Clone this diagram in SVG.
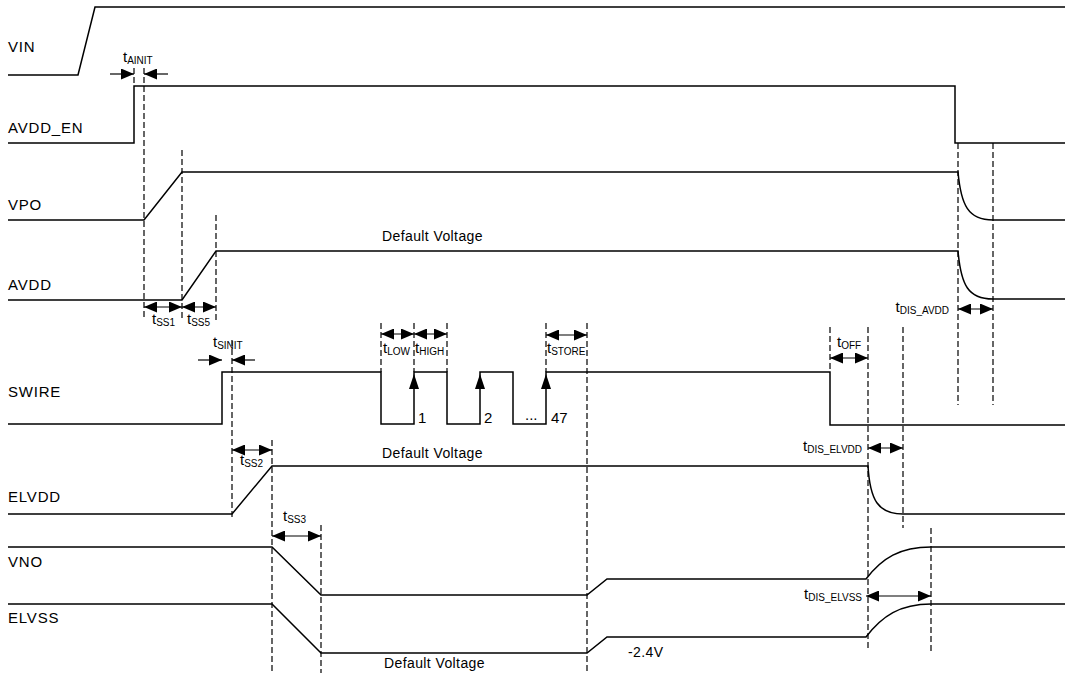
<svg xmlns="http://www.w3.org/2000/svg" width="1065" height="675" viewBox="0 0 1065 675">
<style>
.sig{fill:none;stroke:#000;stroke-width:1.5}
.dash{fill:none;stroke:#000;stroke-width:1.2;stroke-dasharray:6,3}
.dim{fill:none;stroke:#000;stroke-width:1.2}
.lbl{font-family:"Liberation Sans",Arial,sans-serif;font-size:15px;letter-spacing:0.8px;fill:#000}
.t{font-family:"Liberation Sans",Arial,sans-serif;font-size:15px;fill:#000}
.s{font-size:10px}
.dv{font-family:"Liberation Sans",Arial,sans-serif;font-size:14px;letter-spacing:0.4px;fill:#000}
</style>
<defs>
<marker id="ah" viewBox="0 0 13 11" refX="13" refY="5.5" markerWidth="13" markerHeight="11" markerUnits="userSpaceOnUse" orient="auto-start-reverse">
<path d="M0,0 L13,5.5 L0,11 Z" fill="#000"/>
</marker>
</defs>
<rect width="1065" height="675" fill="#fff"/>

<g id="labels">
<text class="lbl" x="8" y="52">VIN</text>
<text class="lbl" x="8" y="133">AVDD_EN</text>
<text class="lbl" x="8" y="210">VPO</text>
<text class="lbl" x="8" y="290">AVDD</text>
<text class="lbl" x="8" y="397">SWIRE</text>
<text class="lbl" x="8" y="502">ELVDD</text>
<text class="lbl" x="8" y="567">VNO</text>
<text class="lbl" x="8" y="623">ELVSS</text>
</g>

<g id="signals">
<path id="VIN" class="sig" d="M8,75 H78 L95,7 H1065"/>
<path id="AVDD_EN" class="sig" d="M8,143 H134 V86 H955 V143 H1065"/>
<path id="VPO" class="sig" d="M8,220 H144 L182,172 H958 C961,205 968,220 993,220 H1065"/>
<path id="AVDD" class="sig" d="M8,300 H182 L216,251 H958 C961,285 968,299 993,299 H1065"/>
<path id="SWIRE" class="sig" d="M8,424 H222 V372 H381 V424 H414 V372 H447 V424 H480 V372 H513 V424 H546 V372 H830 V425 H1065"/>
<path id="ELVDD" class="sig" d="M8,514 H232 L272,466 H868 C870,500 878,514 903,514 H1065"/>
<path id="VNO" class="sig" d="M8,547 H272 L321,595 H587 L607,579 H866 C882,558 900,547 931,547 H1065"/>
<path id="ELVSS" class="sig" d="M8,604 H272 L321,653 H587 L607,637 H866 C882,616 900,604 931,604 H1065"/>
</g>

<g id="connectors">
<path class="dash" d="M134,68 V86"/>
<path class="dash" d="M144,68 V320"/>
<path class="dash" d="M182,150 V320"/>
<path class="dash" d="M216,215 V320"/>
<path class="dash" d="M232,340 V520"/>
<path class="dash" d="M272,440 V673"/>
<path class="dash" d="M321,525 V673"/>
<path class="dash" d="M381,323 V372"/>
<path class="dash" d="M414,323 V372"/>
<path class="dash" d="M447,323 V372"/>
<path class="dash" d="M546,323 V372"/>
<path class="dash" d="M587,323 V673"/>
<path class="dash" d="M830,327 V372"/>
<path class="dash" d="M868,327 V650"/>
<path class="dash" d="M903,327 V528"/>
<path class="dash" d="M931,528 V652"/>
<path class="dash" d="M958,143 V405"/>
<path class="dash" d="M993,143 V405"/>

<path class="dim" d="M110,74 H134" marker-end="url(#ah)"/>
<path class="dim" d="M168,74 H144" marker-end="url(#ah)"/>
<path class="dim" d="M144,307 H182" marker-start="url(#ah)" marker-end="url(#ah)"/>
<path class="dim" d="M182,307 H216" marker-start="url(#ah)" marker-end="url(#ah)"/>
<path class="dim" d="M198,360 H222" marker-end="url(#ah)"/>
<path class="dim" d="M255,360 H232" marker-end="url(#ah)"/>
<path class="dim" d="M381,334 H414" marker-start="url(#ah)" marker-end="url(#ah)"/>
<path class="dim" d="M414,334 H447" marker-start="url(#ah)" marker-end="url(#ah)"/>
<path class="dim" d="M546,335 H587" marker-start="url(#ah)" marker-end="url(#ah)"/>
<path class="dim" d="M830,358 H868" marker-start="url(#ah)" marker-end="url(#ah)"/>
<path class="dim" d="M868,448 H903" marker-start="url(#ah)" marker-end="url(#ah)"/>
<path class="dim" d="M958,309 H993" marker-start="url(#ah)" marker-end="url(#ah)"/>
<path class="dim" d="M232,450 H272" marker-start="url(#ah)" marker-end="url(#ah)"/>
<path class="dim" d="M272,536 H321" marker-start="url(#ah)" marker-end="url(#ah)"/>
<path class="dim" d="M866,596 H931" marker-start="url(#ah)" marker-end="url(#ah)"/>

<path d="M409,389 L414,374 L419,389 Z" fill="#000"/>
<path d="M475,389 L480,374 L485,389 Z" fill="#000"/>
<path d="M541,389 L546,374 L551,389 Z" fill="#000"/>
</g>

<g id="timing-labels">
<text class="t" x="123" y="62">t<tspan class="s" dy="2">AINIT</tspan></text>
<text class="t" x="152" y="324">t<tspan class="s" dy="2">SS1</tspan></text>
<text class="t" x="187" y="324">t<tspan class="s" dy="2">SS5</tspan></text>
<text class="t" x="213" y="347">t<tspan class="s" dy="2">SINIT</tspan></text>
<text class="t" x="383" y="353">t<tspan class="s" dy="2">LOW</tspan></text>
<text class="t" x="415" y="353">t<tspan class="s" dy="2">HIGH</tspan></text>
<text class="t" x="547" y="353">t<tspan class="s" dy="2">STORE</tspan></text>
<text class="t" x="837" y="347">t<tspan class="s" dy="2">OFF</tspan></text>
<text class="t" x="862" y="451" text-anchor="end">t<tspan class="s" dy="2">DIS_ELVDD</tspan></text>
<text class="t" x="949" y="312" text-anchor="end">t<tspan class="s" dy="2">DIS_AVDD</tspan></text>
<text class="t" x="240" y="465">t<tspan class="s" dy="2">SS2</tspan></text>
<text class="t" x="283" y="521">t<tspan class="s" dy="2">SS3</tspan></text>
<text class="t" x="862" y="599" text-anchor="end">t<tspan class="s" dy="2">DIS_ELVSS</tspan></text>
</g>

<g id="notes">
<text class="dv" x="382" y="241">Default Voltage</text>
<text class="dv" x="382" y="458">Default Voltage</text>
<text class="dv" x="384" y="668">Default Voltage</text>
<text class="dv" x="628" y="657">-2.4V</text>
<text class="t" x="418" y="423">1</text>
<text class="t" x="484" y="423">2</text>
<text class="t" x="525" y="420" font-size="11">...</text>
<text class="t" x="551" y="423">47</text>
</g>
</svg>
